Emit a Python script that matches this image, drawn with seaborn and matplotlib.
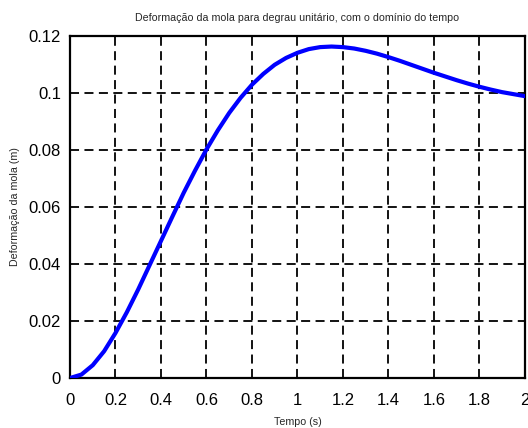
import matplotlib
matplotlib.use("Agg")
import matplotlib.pyplot as plt
from matplotlib.ticker import MultipleLocator, FixedLocator
import seaborn as sns

# step response
tempo = [0.00, 0.05, 0.10, 0.15, 0.20, 0.25, 0.30, 0.35, 0.40, 0.45,
         0.50, 0.55, 0.60, 0.65, 0.70, 0.75, 0.80, 0.85, 0.90, 0.95,
         1.00, 1.05, 1.10, 1.15, 1.20, 1.25, 1.30, 1.35, 1.40, 1.45,
         1.50, 1.55, 1.60, 1.65, 1.70, 1.75, 1.80, 1.85, 1.90, 1.95, 2.00]
deformacao = [0.0000, 0.0012, 0.0045, 0.0094, 0.0158, 0.0231, 0.0311, 0.0396, 0.0481, 0.0566,
              0.0650, 0.0728, 0.0802, 0.0869, 0.0930, 0.0983, 0.1029, 0.1067, 0.1099, 0.1123,
              0.1141, 0.1154, 0.1161, 0.1163, 0.1161, 0.1156, 0.1148, 0.1138, 0.1126, 0.1113,
              0.1099, 0.1085, 0.1071, 0.1058, 0.1045, 0.1033, 0.1022, 0.1012, 0.1003, 0.0996, 0.0989]

x_ticks = [0, 0.2, 0.4, 0.6, 0.8, 1.0, 1.2, 1.4, 1.6, 1.8, 2.0]
x_labels = ["0", "0.2", "0.4", "0.6", "0.8", "1", "1.2", "1.4", "1.6", "1.8", "2"]
y_ticks = [0, 0.02, 0.04, 0.06, 0.08, 0.10, 0.12]
y_labels = ["0", "0.02", "0.04", "0.06", "0.08", "0.1", "0.12"]

sns.set_style("white")
plt.rcParams["font.family"] = ["Liberation Sans", "DejaVu Sans"]

fig = plt.figure(figsize=(5.28, 4.28), dpi=100)
ax = fig.add_axes([0.1326, 0.1168, 0.8614, 0.7991])

sns.lineplot(x=tempo, y=deformacao, ax=ax, color="#0000ff", linewidth=3.0, zorder=3)

ax.set_xlim(0, 2)
ax.set_ylim(0, 0.12)
ax.xaxis.set_major_locator(FixedLocator(x_ticks))
ax.yaxis.set_major_locator(FixedLocator(y_ticks))
ax.set_xticklabels(x_labels)
ax.set_yticklabels(y_labels)
ax.xaxis.set_minor_locator(MultipleLocator(0.1))
ax.yaxis.set_minor_locator(MultipleLocator(0.01))

ax.grid(True, which="major", color="black", linestyle=(0, (5, 3)), linewidth=1.3, zorder=1)
for s in ax.spines.values():
    s.set_color("black")
    s.set_linewidth(1.6)
    s.set_visible(True)

ax.tick_params(which="major", direction="inout", length=7, width=1.5, labelsize=12,
               colors="black", top=False, right=False, pad=3)
ax.tick_params(axis="x", which="major", pad=7)
ax.tick_params(which="minor", direction="out", length=2.5, width=1.2, colors="black",
               top=False, right=False)

ax.set_title("Deformação da mola para degrau unitário, com o domínio do tempo",
             fontsize=7.7, pad=11)
ax.set_xlabel("Tempo (s)", fontsize=7.7, labelpad=6.5)
ax.set_ylabel("Deformação da mola (m)", fontsize=7.7, labelpad=6)

fig.savefig("out.png", dpi=100)
